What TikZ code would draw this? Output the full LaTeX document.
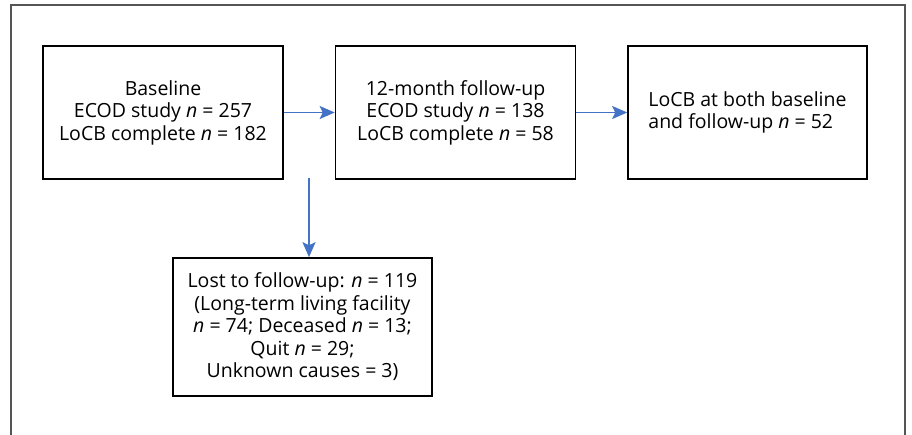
\documentclass[tikz,border=0pt]{standalone}
\usepackage{fontspec}
\setmainfont{Open Sans}
\usetikzlibrary{arrows.meta}
\definecolor{arrowblue}{HTML}{4472C4}
\definecolor{framegray}{HTML}{555555}
\tikzset{
  flowbox/.style={draw=black, line width=1.6pt, inner sep=0pt, font=\fontsize{19.5}{22.5}\selectfont},
  flowarrow/.style={draw=arrowblue, line width=1.6pt, -{Stealth[length=15pt,width=13pt,inset=3pt]}},
}
\begin{document}
\begin{tikzpicture}[x=1pt,y=-1pt]
\useasboundingbox (0,0) rectangle (912,434);
\draw[framegray, line width=1.4pt] (11,436) -- (11,5) -- (905,5) -- (905,436);
\node[flowbox, minimum width=240pt, minimum height=133pt, align=center] (base) at (163,112.5)
  {Baseline\\ECOD study \textit{n} = 257\\LoCB complete \textit{n} = 182};
\node[flowbox, minimum width=240pt, minimum height=133pt, align=center] (fu) at (455.5,112.5)
  {12-month follow-up\\ECOD study \textit{n} = 138\\LoCB complete \textit{n} = 58};
\node[flowbox, minimum width=239pt, minimum height=133pt, align=left] (both) at (747.5,112.5)
  {LoCB at both baseline\\and follow-up \textit{n} = 52};
\node[flowbox, minimum width=259pt, minimum height=138pt, align=center] (lost) at (302.5,327)
  {Lost to follow-up: \textit{n} = 119\\(Long-term living facility\\\textit{n} = 74; Deceased \textit{n} = 13;\\Quit \textit{n} = 29;\\Unknown causes = 3)};
\coordinate (vtop) at (309,178);
\draw[flowarrow] (base.east) -- (fu.west);
\draw[flowarrow] (fu.east) -- (both.west);
\draw[flowarrow] (vtop) -- (vtop |- lost.north);
\end{tikzpicture}
\end{document}
